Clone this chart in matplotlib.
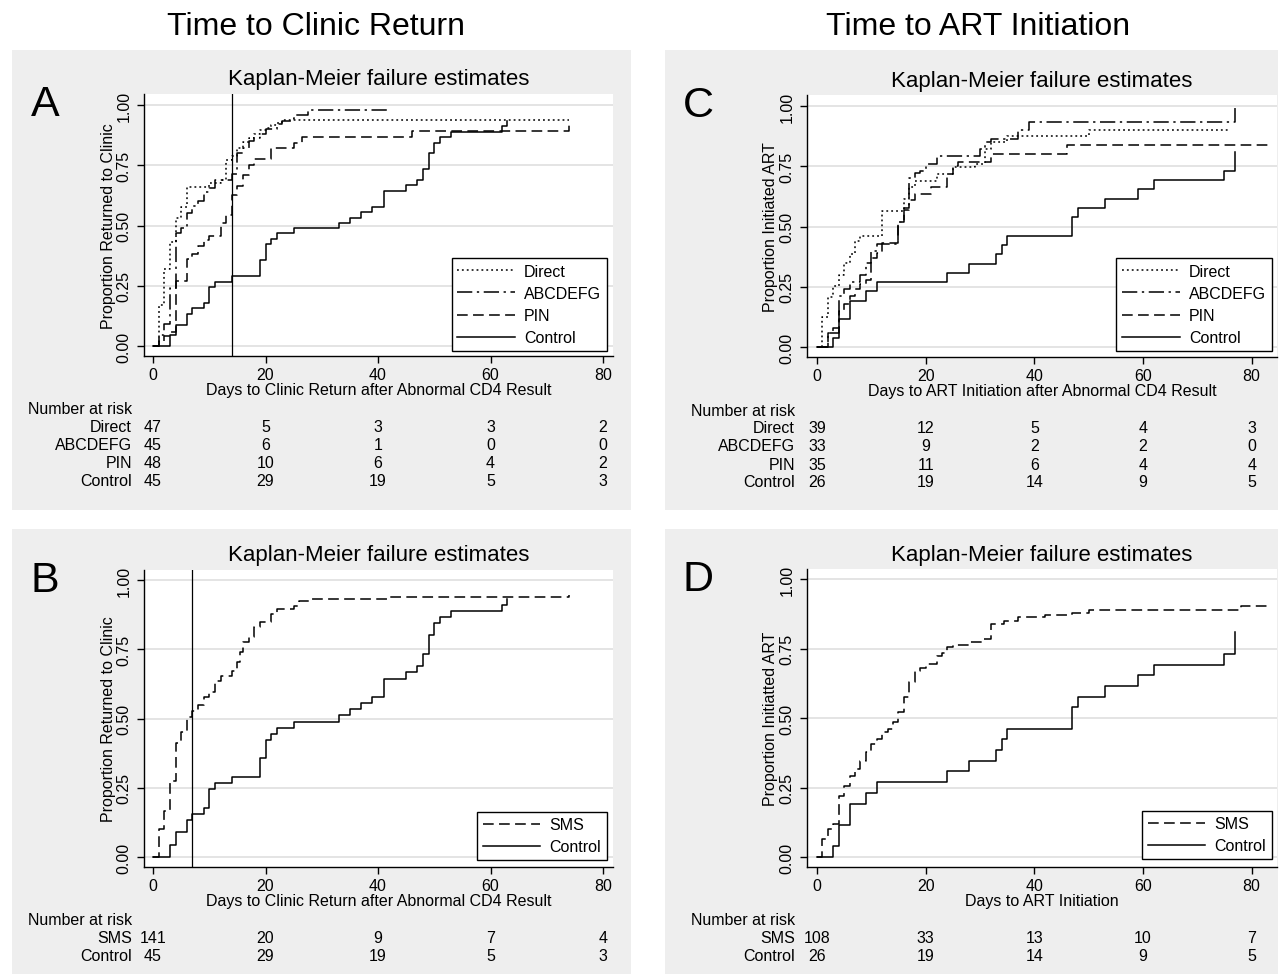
import matplotlib
matplotlib.use("Agg")
import matplotlib.pyplot as plt
from matplotlib.patches import Rectangle
from matplotlib.transforms import blended_transform_factory

plt.rcParams['font.family'] = ['Liberation Sans', 'DejaVu Sans']

W, H = 1280, 979

# ---- time to clinic return: days and cumulative proportion returned ----
clinic_direct_t = [0, 1, 2, 3, 4, 5, 6, 10, 12, 13, 14, 15, 16, 17, 18, 19, 20, 21, 22, 23, 74]
clinic_direct_p = [0, 0.17, 0.32, 0.43, 0.53, 0.575, 0.66, 0.675, 0.69, 0.77, 0.79, 0.82, 0.845,
                   0.865, 0.88, 0.895, 0.905, 0.915, 0.925, 0.939, 0.939]

clinic_abc_t = [0, 1, 2, 3, 4, 5, 6, 7, 8, 9, 10, 11, 14, 15, 16, 17, 18, 19, 20, 22, 23, 24.5,
                25, 27.5, 42]
clinic_abc_p = [0, 0.045, 0.09, 0.24, 0.47, 0.49, 0.55, 0.58, 0.60, 0.64, 0.655, 0.69, 0.714,
                0.80, 0.82, 0.85, 0.865, 0.88, 0.90, 0.92, 0.935, 0.942, 0.958, 0.98, 0.98]

clinic_pin_t = [0, 1, 2, 3, 4, 6, 7, 8, 9, 10, 12, 13, 14, 15, 16, 17, 18, 21, 25, 26.5, 46, 74]
clinic_pin_p = [0, 0.02, 0.04, 0.06, 0.27, 0.36, 0.38, 0.415, 0.44, 0.455, 0.51, 0.545, 0.625,
                0.665, 0.71, 0.75, 0.775, 0.82, 0.842, 0.866, 0.893, 0.925]

clinic_control_t = [0, 3, 4, 6, 7, 9, 10, 11, 14, 19, 20, 21, 22, 25, 33, 35, 37, 39, 41, 45,
                    47, 48, 49, 50, 51, 53, 62, 63]
clinic_control_p = [0, 0.044, 0.089, 0.133, 0.156, 0.178, 0.244, 0.267, 0.289, 0.356, 0.422,
                    0.444, 0.467, 0.489, 0.511, 0.533, 0.556, 0.578, 0.644, 0.667, 0.689, 0.733,
                    0.80, 0.844, 0.867, 0.889, 0.911, 0.933]

clinic_sms_t = [0, 1, 2, 3, 4, 5, 6, 7, 8, 9, 10, 11, 12, 14, 15, 15.5, 16, 17, 18, 19, 21, 22,
                25, 26, 28, 42, 74]
clinic_sms_p = [0, 0.10, 0.167, 0.276, 0.41, 0.45, 0.504, 0.528, 0.55, 0.576, 0.594, 0.637,
                0.655, 0.673, 0.703, 0.74, 0.775, 0.793, 0.83, 0.85, 0.877, 0.895, 0.907, 0.925,
                0.931, 0.937, 0.946]

# ---- time to ART initiation: days and cumulative proportion initiated ----
art_direct_t = [0, 1, 2, 3, 4, 5, 6, 7, 8, 12, 16, 17, 18, 22, 25, 29, 31, 32, 35, 50, 76]
art_direct_p = [0, 0.123, 0.206, 0.254, 0.30, 0.35, 0.386, 0.44, 0.462, 0.566, 0.614, 0.662,
                0.69, 0.718, 0.745, 0.76, 0.82, 0.85, 0.874, 0.90, 0.90]

art_abc_t = [0, 2, 4, 5, 6, 8, 9, 10, 11, 15, 16, 17, 18, 19, 20, 22, 30, 31, 32, 37, 39, 77]
art_abc_p = [0, 0.06, 0.21, 0.24, 0.27, 0.30, 0.35, 0.40, 0.427, 0.517, 0.57, 0.70, 0.72, 0.73,
             0.76, 0.794, 0.82, 0.85, 0.863, 0.90, 0.935, 1.0]

art_pin_t = [0, 2, 3, 4, 5, 6, 7, 8, 9, 10, 11, 12, 15, 16, 17, 18, 21, 24, 25, 26, 32, 46, 83]
art_pin_p = [0, 0.06, 0.08, 0.15, 0.18, 0.21, 0.24, 0.26, 0.28, 0.37, 0.39, 0.43, 0.517, 0.575,
             0.61, 0.635, 0.665, 0.718, 0.75, 0.766, 0.80, 0.84, 0.84]

art_control_t = [0, 3, 4, 6, 9, 11, 24, 28, 33, 34, 35, 47, 48, 53, 59, 62, 75, 77]
art_control_p = [0, 0.038, 0.115, 0.192, 0.231, 0.269, 0.308, 0.346, 0.385, 0.423, 0.462, 0.538,
                 0.577, 0.615, 0.654, 0.692, 0.731, 0.808]

art_sms_t = [0, 1, 2, 3, 4, 5, 6, 7, 8, 9, 10, 11, 12, 13, 14, 15, 16, 17, 18, 19, 20, 22, 23,
             24, 25, 28, 30.5, 32, 34.5, 37, 42, 47, 50, 78, 83]
art_sms_p = [0, 0.065, 0.10, 0.119, 0.22, 0.257, 0.29, 0.317, 0.347, 0.376, 0.406, 0.424, 0.448,
             0.46, 0.484, 0.52, 0.574, 0.628, 0.67, 0.679, 0.694, 0.724, 0.735, 0.754, 0.762,
             0.772, 0.785, 0.838, 0.85, 0.862, 0.87, 0.878, 0.89, 0.904, 0.904]

# ---- number at risk at days 0, 20, 40, 60, 80 ----
risk_days = [0, 20, 40, 60, 80]
clinic_risk = {'Direct': [47, 5, 3, 3, 2], 'ABCDEFG': [45, 6, 1, 0, 0],
               'PIN': [48, 10, 6, 4, 2], 'Control': [45, 29, 19, 5, 3]}
clinic_sms_risk = {'SMS': [141, 20, 9, 7, 4], 'Control': [45, 29, 19, 5, 3]}
art_risk = {'Direct': [39, 12, 5, 4, 3], 'ABCDEFG': [33, 9, 2, 2, 0],
            'PIN': [35, 11, 6, 4, 4], 'Control': [26, 19, 14, 9, 5]}
art_sms_risk = {'SMS': [108, 33, 13, 10, 7], 'Control': [26, 19, 14, 9, 5]}

y_ticks = [0, 0.25, 0.5, 0.75, 1.0]
x_ticks = [0, 20, 40, 60, 80]

line_styles = {
    'Direct': (0, (1.2, 2.0)),
    'ABCDEFG': (0, (10, 3, 1.5, 3)),
    'PIN': (0, (7, 3.5)),
    'SMS': (0, (7, 3.5)),
    'Control': '-',
}

SMALL = 11.5
BG = '#eeeeee'

fig = plt.figure(figsize=(W / 100, H / 100), dpi=100)


def fx(px):
    return px / W


def fy(py):
    return 1 - py / H


def gray_box(l, t, r, b):
    fig.add_artist(Rectangle((fx(l), fy(b)), (r - l) / W, (b - t) / H,
                             transform=fig.transFigure, facecolor=BG,
                             edgecolor='none', zorder=-10))


def km_panel(frame, box, x0, px_per_day, y0, y1, series, risk, vline, letter,
             ylabel, xlabel, legend_anchor, row_right, header_left):
    gray_box(*frame)
    l, t, r, b = box
    ax = fig.add_axes([fx(l), fy(b), (r - l) / W, (b - t) / H])
    ax.set_xlim((l - x0) / px_per_day, (r - x0) / px_per_day)
    ax.set_ylim((y0 - b) / (y0 - y1), (y0 - t) / (y0 - y1))

    for name, t_days, prop in series:
        ax.step(t_days, prop, where='post', color='black', lw=1.1,
                linestyle=line_styles[name], label=name, zorder=3)
    if vline is not None:
        ax.axvline(vline, color='black', lw=0.9, zorder=2)

    ax.set_yticks(y_ticks)
    ax.set_yticklabels(['%.2f' % v for v in y_ticks], rotation=90, va='center')
    ax.set_xticks(x_ticks)
    ax.tick_params(axis='both', direction='out', length=5, width=1,
                   labelsize=SMALL, color='black')
    ax.tick_params(axis='y', pad=4)
    ax.tick_params(axis='x', pad=3)
    ax.grid(axis='y', color='#e4e4e4', lw=1.4)
    ax.set_axisbelow(True)
    for side in ('top', 'right'):
        ax.spines[side].set_visible(False)
    for side in ('left', 'bottom'):
        ax.spines[side].set_linewidth(1.0)

    leg = ax.legend(loc='lower right', bbox_to_anchor=legend_anchor, borderaxespad=0,
                    fontsize=SMALL, frameon=True, fancybox=False, framealpha=1,
                    edgecolor='black', handlelength=3.6, handletextpad=0.6,
                    labelspacing=0.45, borderpad=0.35)
    leg.get_frame().set_linewidth(1.0)

    cx = (l + r) / 2
    fig.text(fx(cx), fy(t - 15), 'Kaplan-Meier failure estimates', ha='center',
             va='center', fontsize=16)
    fig.text(fx(frame[0] + 33), fy(t + 10), letter, ha='center', va='center', fontsize=31)
    fig.text(fx(l - 36), fy((t + b) / 2), ylabel, rotation=90, ha='center',
             va='center', fontsize=SMALL)
    fig.text(fx(cx), fy(b + 34), xlabel, ha='center', va='center', fontsize=SMALL)

    # number-at-risk table under the axis
    tr = blended_transform_factory(ax.transData, fig.transFigure)
    row_y = b + 53
    fig.text(fx(header_left), fy(row_y), 'Number at risk', ha='left', va='center',
             fontsize=SMALL)
    for name, counts in risk.items():
        row_y += 18
        fig.text(fx(row_right), fy(row_y), name, ha='right', va='center', fontsize=SMALL)
        for day, n in zip(risk_days, counts):
            ax.text(day, fy(row_y), str(n), transform=tr, ha='center', va='center',
                    fontsize=SMALL, clip_on=False)
    return ax


# column headers
fig.text(fx(316), fy(27), 'Time to Clinic Return', ha='center', va='center', fontsize=23)
fig.text(fx(978), fy(27), 'Time to ART Initiation', ha='center', va='center', fontsize=23)

km_panel((12, 51, 631, 511), (144, 95, 613, 357), 153, 5.625, 347, 106,
         [('Direct', clinic_direct_t, clinic_direct_p),
          ('ABCDEFG', clinic_abc_t, clinic_abc_p),
          ('PIN', clinic_pin_t, clinic_pin_p),
          ('Control', clinic_control_t, clinic_control_p)],
         clinic_risk, 14, 'A', 'Proportion Returned to Clinic',
         'Days to Clinic Return after Abnormal CD4 Result', (0.987, 0.019), 132, 28)

km_panel((12, 530, 631, 975), (144, 571, 613, 868), 153, 5.625, 858, 581,
         [('SMS', clinic_sms_t, clinic_sms_p),
          ('Control', clinic_control_t, clinic_control_p)],
         clinic_sms_risk, 7, 'B', 'Proportion Returned to Clinic',
         'Days to Clinic Return after Abnormal CD4 Result', (0.987, 0.024), 132, 28)

km_panel((665, 51, 1278, 511), (807, 96, 1277, 358), 817, 5.4333, 348, 107,
         [('Direct', art_direct_t, art_direct_p),
          ('ABCDEFG', art_abc_t, art_abc_p),
          ('PIN', art_pin_t, art_pin_p),
          ('Control', art_control_t, art_control_p)],
         art_risk, None, 'C', 'Proportion Initiated ART',
         'Days to ART Initiation after Abnormal CD4 Result', (0.989, 0.023), 795, 691)

km_panel((665, 530, 1278, 975), (807, 570, 1277, 868), 817, 5.4333, 858, 580,
         [('SMS', art_sms_t, art_sms_p),
          ('Control', art_control_t, art_control_p)],
         art_sms_risk, None, 'D', 'Proportion Initiatted ART',
         'Days to ART Initiation', (0.989, 0.027), 795, 691)

fig.savefig('out.png', dpi=100)
